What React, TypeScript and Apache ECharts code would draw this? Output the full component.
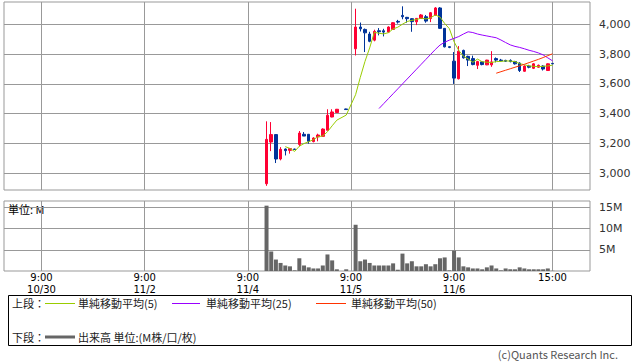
import React, { useEffect, useRef } from 'react';
import * as echarts from 'echarts';

// ---- axis / tick data ----
const SLOTS_PER_DAY = 22; // 15-minute slots, 9:00 = slot 0, 15:00 = slot 21
const TICK_DAY = [0, 1, 2, 3, 4, 4];
const TICK_SLOT = [0, 0, 0, 0, 0, 21];
const TICK_TIME = ['9:00', '9:00', '9:00', '9:00', '9:00', '15:00'];
const TICK_DATE = ['10/30', '11/2', '11/4', '11/5', '11/6', ''];
const PRICE_TICKS = [3000, 3200, 3400, 3600, 3800, 4000];
const VOLUME_TICKS = [5, 10, 15];

// ---- bars: day index (0 = 10/30 ... 4 = 11/6) and slot in day ----
const barDay = [
  2, 2, 2, 2, 2, 2, 2, 2, 2, 2, 2, 2, 2, 2, 2, 2, 2,
  3, 3, 3, 3, 3, 3, 3, 3, 3, 3, 3, 3, 3, 3, 3, 3, 3, 3, 3, 3, 3,
  4, 4, 4, 4, 4, 4, 4, 4, 4, 4, 4, 4, 4, 4, 4, 4, 4, 4, 4, 4, 4, 4,
];
const barSlot = [
  4, 5, 6, 7, 8, 9, 10, 11, 12, 13, 14, 15, 16, 17, 18, 19, 21,
  1, 2, 3, 4, 5, 6, 7, 8, 9, 10, 11, 12, 13, 14, 15, 16, 17, 18, 19, 20, 21,
  0, 1, 2, 3, 4, 5, 6, 7, 8, 9, 10, 11, 12, 13, 14, 15, 16, 17, 18, 19, 20, 21,
];
const open = [
  2930, 3210, 3260, 3096, 3163, 3154, 3163, 3194, 3262, 3262, 3213, 3244, 3248, 3289, 3378, 3408, 3432,
  3836, 3982, 3966, 3935, 3894, 3957, 3957, 3948, 3966, 4020, 4060, 4047, 4038, 4017, 4040, 4051, 4039, 4061, 4110, 3973, 3850,
  3753, 3635, 3825, 3785, 3770, 3725, 3748, 3728, 3728, 3770, 3760, 3758, 3758, 3750, 3740, 3685, 3720, 3705, 3712, 3720, 3690, 3738,
];
const close = [
  3228, 3260, 3096, 3161, 3152, 3166, 3160, 3270, 3250, 3215, 3237, 3257, 3297, 3390, 3412, 3430, 3428,
  3982, 3970, 3943, 3886, 3953, 3950, 3948, 3982, 4011, 4015, 4051, 4038, 4018, 4040, 4063, 4022, 4078, 4110, 3973, 3849, 3845,
  3639, 3820, 3775, 3760, 3730, 3750, 3730, 3760, 3748, 3760, 3755, 3752, 3750, 3735, 3690, 3720, 3712, 3735, 3725, 3700, 3735, 3735,
];
const low = [
  2916, 3149, 3069, 3087, 3120, 3132, 3158, 3181, 3250, 3199, 3208, 3215, 3246, 3289, 3376, 3405, 3426,
  3791, 3952, 3814, 3880, 3886, 3926, 3919, 3945, 3963, 4005, 4034, 4011, 3950, 3995, 4038, 4011, 4015, 4058, 3970, 3845, 3840,
  3600, 3630, 3770, 3720, 3725, 3700, 3725, 3726, 3715, 3745, 3750, 3748, 3745, 3730, 3680, 3682, 3705, 3700, 3708, 3690, 3688, 3733,
];
const high = [
  3349, 3344, 3262, 3176, 3167, 3168, 3165, 3284, 3277, 3262, 3242, 3266, 3302, 3430, 3430, 3432, 3434,
  4105, 4012, 3972, 3950, 3964, 3975, 3970, 3987, 4015, 4030, 4121, 4050, 4042, 4042, 4069, 4063, 4083, 4116, 4116, 3975, 3852,
  3814, 3854, 3830, 3790, 3790, 3755, 3752, 3762, 3820, 3778, 3768, 3762, 3765, 3755, 3745, 3725, 3728, 3740, 3730, 3725, 3738, 3740,
];
const volume = [
  15.4, 4.6, 2.7, 1.9, 1.3, 1.1, 0.15, 3.0, 1.3, 0.86, 0.6, 0.6, 1.3, 3.9, 2.5, 0.4, 0.4,
  10.9, 2.3, 2.7, 1.9, 1.3, 1.3, 1.3, 1.3, 1.8, 0.3, 4.1, 1.8, 2.3, 1.1, 1.1, 1.6, 1.1, 1.6, 3.0, 3.2, 0.15,
  4.8, 3.2, 1.1, 0.86, 0.6, 0.6, 0.4, 0.86, 1.3, 0.6, 0.15, 0.6, 0.4, 0.4, 0.86, 0.6, 0.4, 0.4, 0.4, 0.4, 0.6, 0.05,
];
const ma5 = [
  null, null, null, null, 3179, 3167, 3147, 3182, 3200, 3212, 3226, 3246, 3251, 3279, 3319, 3357, 3391,
  3528, 3644, 3751, 3842, 3947, 3940, 3936, 3944, 3969, 3981, 4001, 4019, 4027, 4032, 4042, 4036, 4044, 4063, 4049, 4006, 3971,
  3883, 3825, 3786, 3768, 3745, 3767, 3749, 3746, 3744, 3750, 3751, 3755, 3753, 3750, 3736, 3729, 3721, 3718, 3716, 3718, 3721, 3726,
];
const ma25 = [
  null, null, null, null, null, null, null, null, null, null, null, null, null, null, null, null, null,
  null, null, null, null, null, 3435, 3468, 3501, 3534, 3567, 3600, 3633, 3666, 3699, 3732, 3765, 3798, 3831, 3861, 3880, 3894,
  3906, 3918, 3935, 3950, 3945, 3935, 3928, 3922, 3916, 3910, 3895, 3878, 3862, 3852, 3845, 3836, 3826, 3818, 3808, 3795, 3775, 3755,
];
const ma50 = [
  null, null, null, null, null, null, null, null, null, null, null, null, null, null, null, null, null,
  null, null, null, null, null, null, null, null, null, null, null, null, null, null, null, null, null, null, null, null, null,
  null, null, null, null, null, null, null, null, null, 3672, 3682, 3692, 3702, 3712, 3722, 3732, 3743, 3754, 3765, 3777, 3790, 3802,
];

const LEGEND_LABELS = ['単純移動平均(5)', '単純移動平均(25)', '単純移動平均(50)'];
const MA_COLORS = ['#99cc00', '#9900ff', '#ff3300'];

const FONT = '"DejaVu Sans", "Noto Sans CJK JP", sans-serif';
const JP_FONT = '"Noto Sans CJK JP", "DejaVu Sans", sans-serif';
const GRID = '#999999';

function buildOption() {
  const xs = barDay.map((d, i) => d * SLOTS_PER_DAY + barSlot[i]);
  const tickX = TICK_DAY.map((d, i) => d * SLOTS_PER_DAY + TICK_SLOT[i]);
  const xLabel: Record<number, string> = {};
  tickX.forEach((x, i) => {
    xLabel[x] = TICK_DATE[i] ? `${TICK_TIME[i]}\n${TICK_DATE[i]}` : TICK_TIME[i];
  });
  const toLine = (arr: (number | null)[]) =>
    xs.map((x, i) => (arr[i] == null ? null : [x, arr[i]])).filter((p) => p !== null);

  const xCommon = {
    type: 'value',
    min: -8,
    max: 117,
    axisLine: { show: false },
    axisTick: { show: false, customValues: tickX },
    splitLine: { show: true, lineStyle: { color: GRID, width: 1 } },
  };
  const yCommon = {
    type: 'value',
    position: 'right',
    axisLine: { show: false },
    splitLine: { show: true, lineStyle: { color: GRID, width: 1 } },
  };

  const legendY1 = 303;
  const legendY2 = 337;
  const legendLines = [
    [45, 75, 78],
    [172, 200, 206],
    [316, 346, 351],
  ];
  const txt = (x: number, y: number, text: string, extra: any = {}) => ({
    type: 'text',
    x,
    y,
    silent: true,
    style: {
      text,
      font: `11px ${JP_FONT}`,
      fill: '#222',
      verticalAlign: 'middle',
      textVerticalAlign: 'middle',
      ...extra,
    },
  });
  const graphics: any[] = [
    {
      type: 'rect',
      shape: { x: 8.5, y: 295.5, width: 623, height: 50 },
      style: { fill: 'none', stroke: '#000', lineWidth: 1 },
      silent: true,
    },
    txt(12, legendY1, '上段：'),
    txt(12, legendY2, '下段：'),
    {
      type: 'line',
      shape: { x1: 45, y1: legendY2, x2: 75, y2: legendY2 },
      style: { stroke: '#666', lineWidth: 3 },
      silent: true,
    },
    txt(78, legendY2, '出来高 単位:(M株/口/枚)'),
    txt(8, 209, '単位: M', { fill: '#000' }),
    txt(618, 354, '(c)Quants Research Inc.', { align: 'right', textAlign: 'right', fill: '#555' }),
  ];
  legendLines.forEach(([a, b, t], i) => {
    graphics.push({
      type: 'line',
      shape: { x1: a, y1: legendY1 + 0.5, x2: b, y2: legendY1 + 0.5 },
      style: { stroke: MA_COLORS[i], lineWidth: 1 },
      silent: true,
    });
    graphics.push(txt(t, legendY1, LEGEND_LABELS[i]));
  });

  return {
    animation: false,
    backgroundColor: '#ffffff',
    textStyle: { fontFamily: FONT },
    grid: [
      { left: 4, top: 2, width: 586, height: 188, show: true, borderColor: GRID, borderWidth: 1, outerBoundsMode: 'none' },
      { left: 4, top: 201, width: 586, height: 70, show: true, borderColor: GRID, borderWidth: 1, outerBoundsMode: 'none' },
    ],
    xAxis: [
      { ...xCommon, gridIndex: 0, axisLabel: { show: false, customValues: tickX } },
      {
        ...xCommon,
        gridIndex: 1,
        axisLabel: {
          show: true,
          customValues: tickX,
          formatter: (v: number) => xLabel[v] ?? '',
          fontSize: 10,
          lineHeight: 12,
          color: '#000',
          margin: 0,
          fontFamily: FONT,
        },
      },
    ],
    yAxis: [
      {
        ...yCommon,
        gridIndex: 0,
        min: 2888,
        max: 4150,
        axisTick: { show: true, length: 5, customValues: PRICE_TICKS, lineStyle: { color: GRID } },
        axisLabel: {
          customValues: PRICE_TICKS,
          formatter: (v: number) => v.toLocaleString('en-US'),
          fontSize: 11,
          color: '#333',
          margin: 9,
          fontFamily: FONT,
        },
      },
      {
        ...yCommon,
        gridIndex: 1,
        min: 0,
        max: 16.5,
        axisTick: { show: true, length: 5, customValues: VOLUME_TICKS, lineStyle: { color: GRID } },
        axisLabel: {
          customValues: VOLUME_TICKS,
          formatter: (v: number) => `${v}M`,
          fontSize: 11,
          color: '#333',
          margin: 9,
          fontFamily: FONT,
        },
      },
    ],
    series: [
      {
        type: 'candlestick',
        xAxisIndex: 0,
        yAxisIndex: 0,
        barWidth: 3,
        data: xs.map((x, i) => [x, open[i], close[i], low[i], high[i]]),
        itemStyle: {
          color: '#ff0033',
          color0: '#003399',
          borderColor: '#ff0033',
          borderColor0: '#003399',
          borderWidth: 1,
        },
        z: 2,
      },
      ...[ma5, ma25, ma50].map((arr, i) => ({
        type: 'line',
        xAxisIndex: 0,
        yAxisIndex: 0,
        data: toLine(arr),
        showSymbol: false,
        symbol: 'none',
        lineStyle: { color: MA_COLORS[i], width: 1 },
        z: 3,
      })),
      {
        type: 'bar',
        xAxisIndex: 1,
        yAxisIndex: 1,
        barWidth: 4,
        data: xs.map((x, i) => [x, volume[i]]),
        itemStyle: { color: '#666666' },
      },
    ],
    graphic: graphics,
  };
}

export default function App() {
  const ref = useRef<HTMLDivElement>(null);
  useEffect(() => {
    const chart = echarts.init(ref.current as HTMLDivElement, null, { renderer: 'svg' });
    chart.setOption(buildOption() as any);
    return () => chart.dispose();
  }, []);
  return (
    <div
      ref={ref}
      style={{ position: 'absolute', left: 0, top: 0, width: 638, height: 362, background: '#fff' }}
    />
  );
}
